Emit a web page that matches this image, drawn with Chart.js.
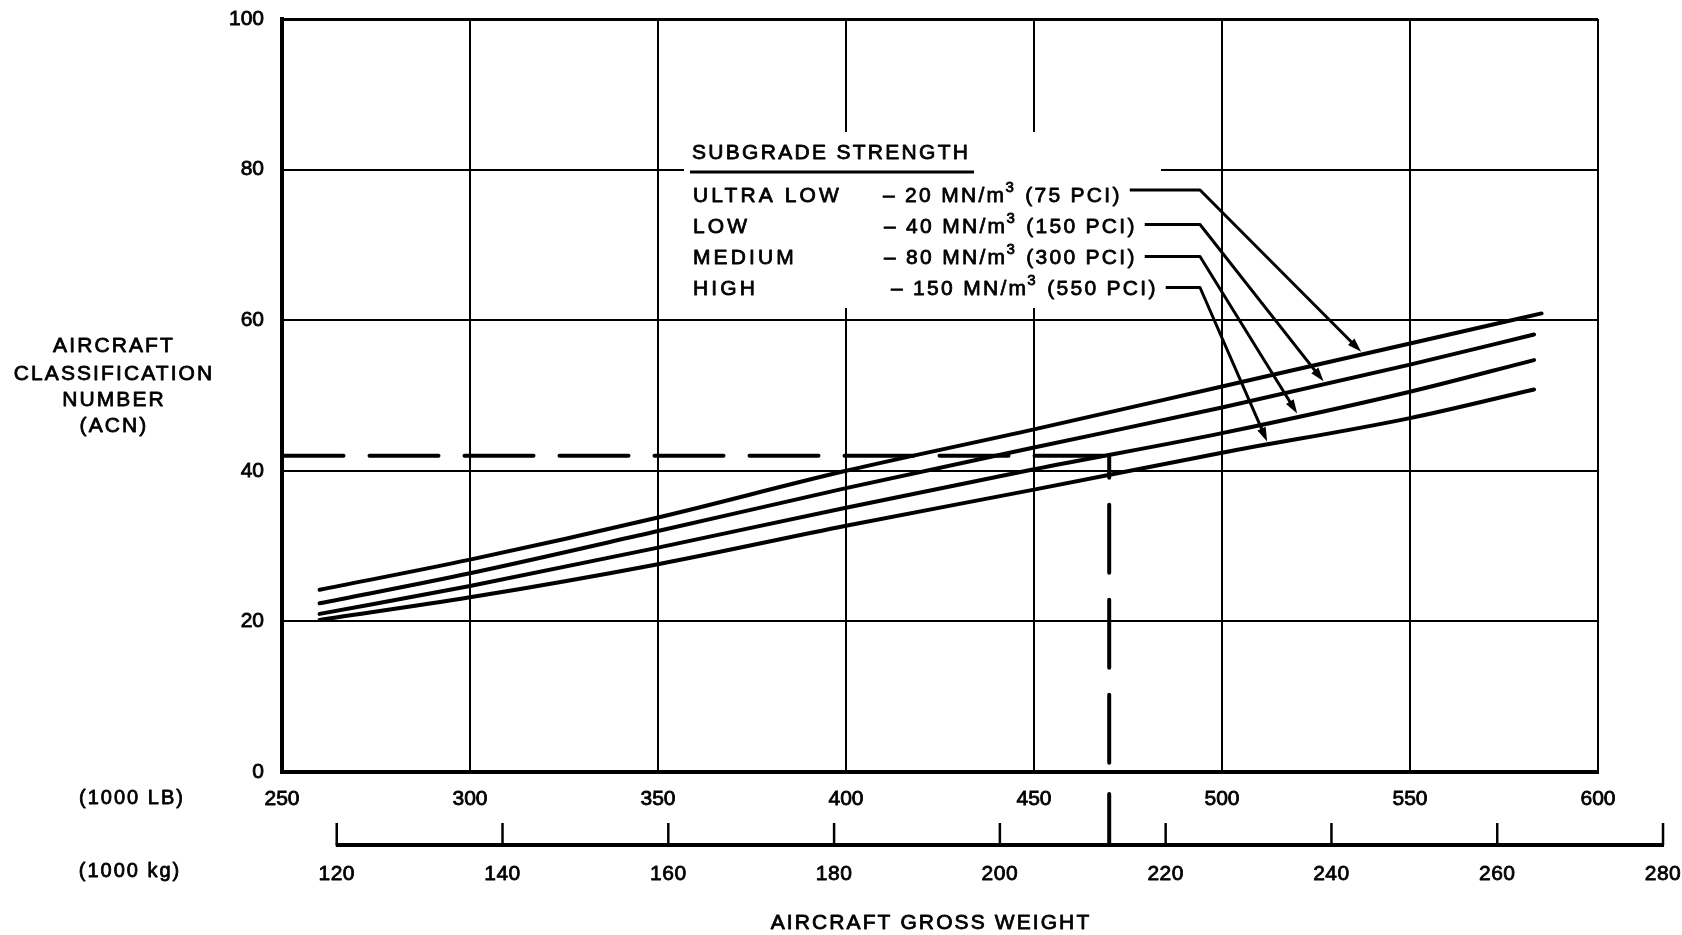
<!DOCTYPE html>
<html>
<head>
<meta charset="utf-8">
<script src="https://cdn.jsdelivr.net/npm/chart.js@4.4.1/dist/chart.umd.min.js"></script>
<style>
  html, body { margin: 0; padding: 0; background: #fff; }
  #wrap { width: 1682px; height: 935px; position: relative; }
  canvas { display: block; }
</style>
</head>
<body>
<div id="wrap"><canvas id="c" width="1682" height="935"></canvas></div>
<script>
// ---------------- DATA ----------------
const weightLb = [260, 300, 350, 400, 450, 500, 550];
const endWeightUltraLow = 585;
const endWeightOthers = 583;
const acnUltraLow = [24.2, 28.2, 33.8, 40.0, 45.5, 51.2, 56.9, 60.9];
const acnLow      = [22.4, 26.4, 32.0, 37.7, 43.1, 48.4, 54.1, 58.1];
const acnMedium   = [21.0, 24.7, 29.8, 35.1, 40.2, 45.0, 50.5, 54.7];
const acnHigh     = [20.2, 23.2, 27.6, 32.7, 37.5, 42.4, 47.0, 50.8];

const lbTicks  = [250, 300, 350, 400, 450, 500, 550, 600];
const acnTicks = [0, 20, 40, 60, 80, 100];
const kgTicks  = [120, 140, 160, 180, 200, 220, 240, 260, 280];
const LB_PER_KG = 2.20462;

const exampleWeightLb = 470;
const exampleAcn = 42;

const legendTitle  = 'SUBGRADE STRENGTH';
const legendNames  = ['ULTRA LOW', 'LOW', 'MEDIUM', 'HIGH'];
const legendMN     = ['20', '40', '80', '150'];
const legendPci    = ['(75 PCI)', '(150 PCI)', '(300 PCI)', '(550 PCI)'];
const arrowTipLb   = [537, 527, 520, 512];

const yTitleLines  = ['AIRCRAFT', 'CLASSIFICATION', 'NUMBER', '(ACN)'];
const xTitle       = 'AIRCRAFT GROSS WEIGHT';
const lbUnitLabel  = '(1000 LB)';
const kgUnitLabel  = '(1000 kg)';

// ---------------- HELPERS ----------------
const FONT = '"Liberation Sans", Arial, Helvetica, sans-serif';
const TEXT_STROKE = 0.8;
const wUL = weightLb.concat([endWeightUltraLow]);
const wOther = weightLb.concat([endWeightOthers]);
const series = [
  { xs: wUL, ys: acnUltraLow },
  { xs: wOther, ys: acnLow },
  { xs: wOther, ys: acnMedium },
  { xs: wOther, ys: acnHigh }
];
function pts(xs, ys) { return xs.map((x, i) => ({ x: x, y: ys[i] })); }
function interp(xs, ys, x) {
  for (let i = 0; i < xs.length - 1; i++) {
    if (x >= xs[i] && x <= xs[i + 1]) {
      const t = (x - xs[i]) / (xs[i + 1] - xs[i]);
      return ys[i] + t * (ys[i + 1] - ys[i]);
    }
  }
  return ys[ys.length - 1];
}
function curveDs(s) {
  return {
    data: pts(s.xs, s.ys),
    borderColor: '#000', borderWidth: 4, borderCapStyle: 'round',
    pointRadius: 0, fill: false, cubicInterpolationMode: 'monotone'
  };
}
function txt(c, t, x, y) {
  c.lineWidth = TEXT_STROKE;
  c.strokeText(t, x, y);
  c.fillText(t, x, y);
}

// ---------------- OVERLAY PLUGIN ----------------
const overlay = {
  id: 'overlay',
  beforeDatasetsDraw(chart) {
    const c = chart.ctx;
    c.save();
    c.fillStyle = '#fff';
    c.fillRect(684, 132, 1161 - 684, 308 - 132);
    c.restore();
  },
  afterDatasetsDraw(chart) {
    // example reading: ACN 42 across to 470 000 lb, then down
    const c = chart.ctx, xs = chart.scales.x, ys = chart.scales.y;
    const x0 = xs.getPixelForValue(lbTicks[0]);
    const x1 = xs.getPixelForValue(exampleWeightLb);
    const y1 = ys.getPixelForValue(exampleAcn);
    const y0 = ys.getPixelForValue(acnTicks[0]);
    c.save();
    c.strokeStyle = '#000';
    c.lineWidth = 4;
    c.lineCap = 'round';
    c.setLineDash([69, 26]);
    c.lineDashOffset = 9.5;
    c.beginPath(); c.moveTo(x0 + 2, y1); c.lineTo(x1, y1); c.stroke();
    c.setLineDash([68, 27]);
    c.lineDashOffset = 46;
    c.beginPath(); c.moveTo(x1, y1); c.lineTo(x1, y0); c.stroke();
    c.restore();
  },
  afterDraw(chart) {
    const c = chart.ctx, xs = chart.scales.x, ys = chart.scales.y;
    c.save();
    c.fillStyle = '#000';
    c.strokeStyle = '#000';
    c.textBaseline = 'middle';
    c.lineJoin = 'round';

    // ---- legend ----
    c.letterSpacing = '2.3px';
    c.font = '21px ' + FONT;
    c.textAlign = 'left';
    txt(c, legendTitle, 692, 153);
    c.lineWidth = 3;
    c.beginPath(); c.moveTo(690, 172); c.lineTo(974, 172); c.stroke();

    const rowY = [196, 227, 258, 289];
    const leaderY = [190, 224.5, 256.5, 287.5];
    const valueX = [883, 884, 884, 891];
    const elbowX = 1200;
    for (let i = 0; i < 4; i++) {
      c.font = '21px ' + FONT;
      c.letterSpacing = '3.1px';
      txt(c, legendNames[i], 693, rowY[i]);
      c.letterSpacing = '2.3px';
      let x = valueX[i];
      const a = '\u2013 ' + legendMN[i] + ' MN/m';
      txt(c, a, x, rowY[i]); x += c.measureText(a).width;
      c.font = '15px ' + FONT;
      txt(c, '3', x - 1, rowY[i] - 8); x += c.measureText('3').width;
      c.font = '21px ' + FONT;
      const b = ' ' + legendPci[i];
      txt(c, b, x, rowY[i]); x += c.measureText(b).width;

      // leader line + arrow to curve
      const s = series[i];
      const tx = xs.getPixelForValue(arrowTipLb[i]);
      const ty = ys.getPixelForValue(interp(s.xs, s.ys, arrowTipLb[i])) - 3;
      c.lineWidth = 3;
      c.beginPath();
      c.moveTo(x + 8, leaderY[i]);
      c.lineTo(elbowX, leaderY[i]);
      const dx = tx - elbowX, dy = ty - leaderY[i];
      const len = Math.hypot(dx, dy), ux = dx / len, uy = dy / len;
      const ah = 14, aw = 4.5;
      c.lineTo(tx - ux * ah * 0.8, ty - uy * ah * 0.8);
      c.stroke();
      c.beginPath();
      c.moveTo(tx, ty);
      c.lineTo(tx - ux * ah - uy * aw, ty - uy * ah + ux * aw);
      c.lineTo(tx - ux * ah + uy * aw, ty - uy * ah - ux * aw);
      c.closePath(); c.fill();
    }

    // ---- y title ----
    c.font = '21px ' + FONT;
    c.textAlign = 'center';
    c.letterSpacing = '2.1px';
    const yTitleY = [346, 374, 400, 426];
    yTitleLines.forEach((t, i) => txt(c, t, 114, yTitleY[i]));

    // ---- unit labels ----
    c.letterSpacing = '2px';
    c.font = '20px ' + FONT;
    txt(c, lbUnitLabel, 132, 798);
    txt(c, kgUnitLabel, 130, 871);

    // ---- kg axis ----
    const kgY = 845;
    const kx0 = xs.getPixelForValue(kgTicks[0] * LB_PER_KG);
    const kx1 = xs.getPixelForValue(kgTicks[kgTicks.length - 1] * LB_PER_KG);
    c.lineWidth = 4; c.lineCap = 'butt';
    c.beginPath(); c.moveTo(kx0 - 1, kgY); c.lineTo(kx1 + 1, kgY); c.stroke();
    c.letterSpacing = '0.5px';
    c.font = '21px ' + FONT;
    kgTicks.forEach(k => {
      const px = xs.getPixelForValue(k * LB_PER_KG);
      c.lineWidth = 2.5;
      c.beginPath(); c.moveTo(px, kgY); c.lineTo(px, kgY - 22); c.stroke();
      txt(c, String(k), px, 874);
    });
    // example weight continues down to the kg scale
    const ex = xs.getPixelForValue(exampleWeightLb);
    c.lineWidth = 4; c.lineCap = 'round';
    c.beginPath(); c.moveTo(ex, 794); c.lineTo(ex, kgY); c.stroke();

    // ---- x title ----
    c.letterSpacing = '2.1px';
    c.font = '21px ' + FONT;
    txt(c, xTitle, 931, 923);
    c.restore();
  }
};

// ---------------- CHART ----------------
const ctx = document.getElementById('c').getContext('2d');
new Chart(ctx, {
  type: 'line',
  data: {
    datasets: [
      curveDs(series[0]), curveDs(series[1]), curveDs(series[2]), curveDs(series[3])
    ]
  },
  options: {
    responsive: false,
    animation: false,
    devicePixelRatio: 1,
    layout: { padding: { left: 222, right: 84, top: 19, bottom: 123 } },
    plugins: { legend: { display: false }, tooltip: { enabled: false }, title: { display: false } },
    scales: {
      x: {
        type: 'linear', min: lbTicks[0], max: lbTicks[lbTicks.length - 1],
        afterBuildTicks: s => { s.ticks = lbTicks.map(v => ({ value: v })); },
        afterFit: s => { s.height = 40; },
        grid: { color: '#000', lineWidth: 2, drawTicks: true, tickLength: 15, tickColor: 'rgba(0,0,0,0)' },
        border: { color: '#000', width: 4 },
        ticks: { color: '#000', font: { family: FONT, size: 21 }, padding: 0, maxRotation: 0, autoSkip: false,
                 textStrokeColor: '#000', textStrokeWidth: TEXT_STROKE }
      },
      y: {
        type: 'linear', min: acnTicks[0], max: acnTicks[acnTicks.length - 1],
        afterBuildTicks: s => { s.ticks = acnTicks.map(v => ({ value: v })); },
        afterFit: s => { s.width = 60; },
        grid: { color: '#000', lineWidth: c => (c.tick && c.tick.value === 100 ? 3 : 2),
                drawTicks: true, tickLength: 18, tickColor: 'rgba(0,0,0,0)' },
        border: { color: '#000', width: 4 },
        ticks: { color: '#000', font: { family: FONT, size: 21 }, padding: 0, autoSkip: false,
                 textStrokeColor: '#000', textStrokeWidth: TEXT_STROKE }
      }
    }
  },
  plugins: [overlay]
});
</script>
</body>
</html>
